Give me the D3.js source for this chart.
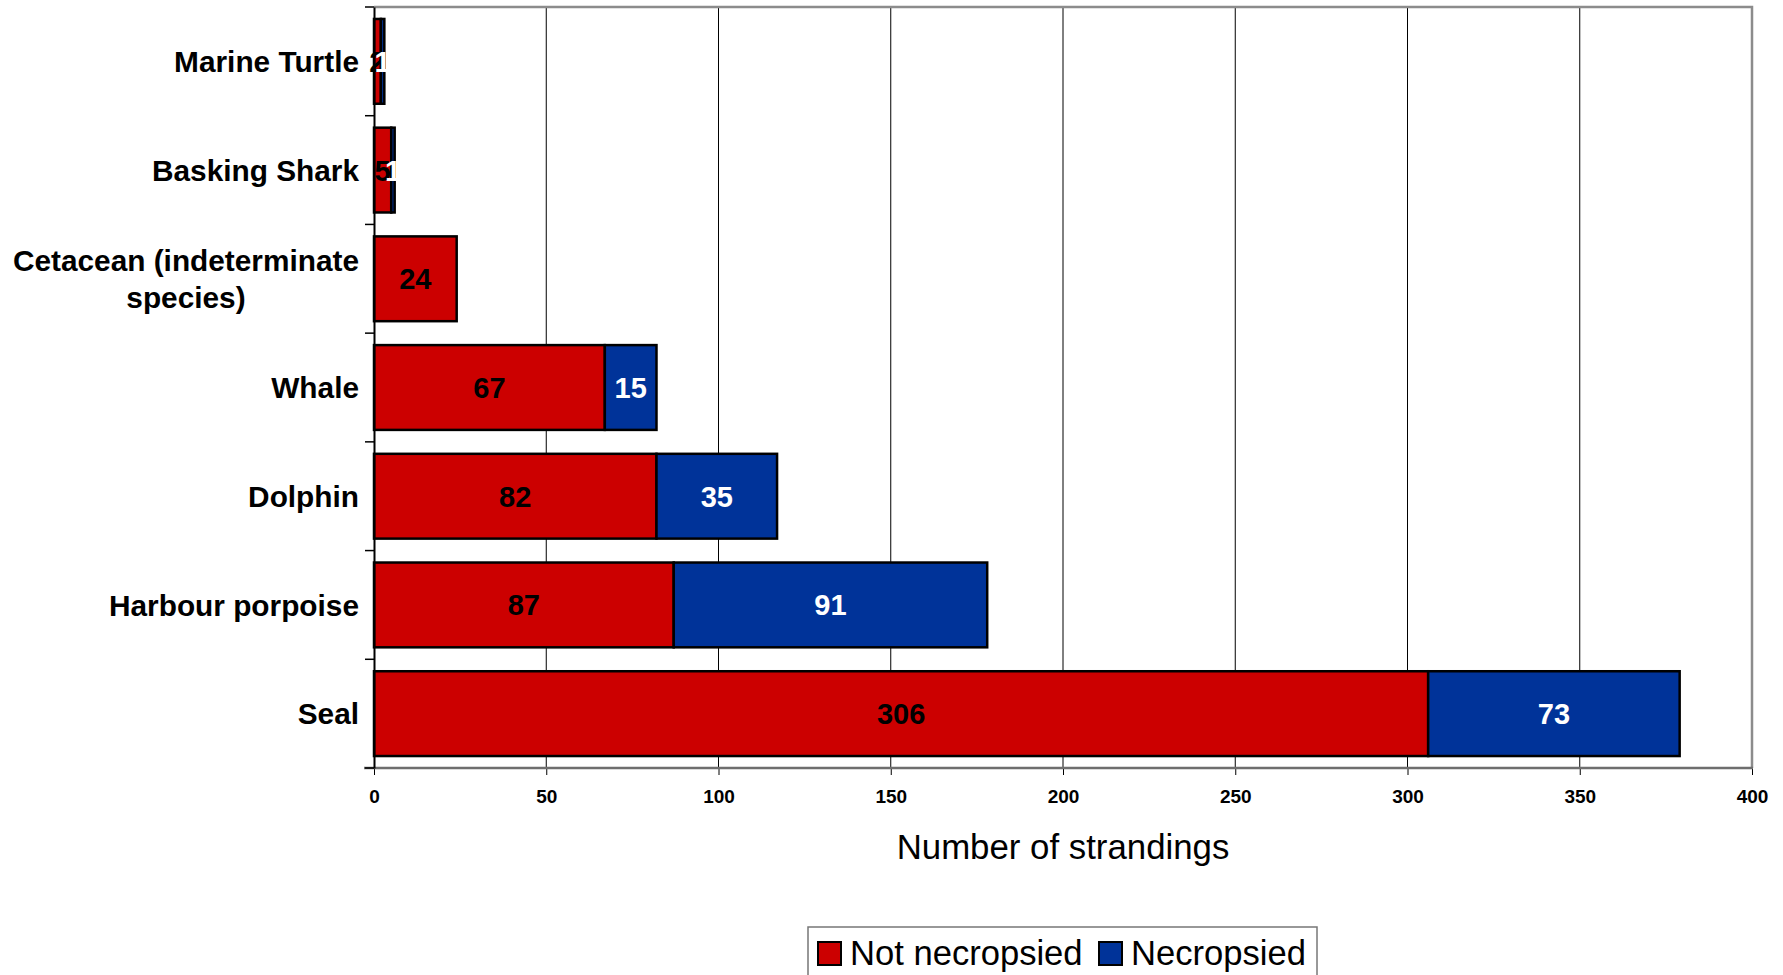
<!DOCTYPE html>
<html>
<head>
<meta charset="utf-8">
<script src="https://cdn.jsdelivr.net/npm/d3@7"></script>
<style>
  html, body { margin: 0; padding: 0; background: #fff; }
  svg { display: block; font-family: "Liberation Sans", Arial, Helvetica, sans-serif; }
</style>
</head>
<body>
<svg id="chart" width="1783" height="975"></svg>
<script>
// Strandings by species, split by whether a necropsy was carried out
const categories = ["Marine Turtle", "Basking Shark", "Cetacean (indeterminate species)", "Whale", "Dolphin", "Harbour porpoise", "Seal"];
const categoryLines = [["Marine Turtle"], ["Basking Shark"], ["Cetacean (indeterminate", "species)"], ["Whale"], ["Dolphin"], ["Harbour porpoise"], ["Seal"]];
const notNecropsied = [2, 5, 24, 67, 82, 87, 306];
const necropsied = [1, 1, 0, 15, 35, 91, 73];
const seriesNames = ["Not necropsied", "Necropsied"];
const seriesColors = ["#CC0000", "#003399"];
const labelColors = ["#000", "#fff"];
const xTicks = [0, 50, 100, 150, 200, 250, 300, 350, 400];
const xTitle = "Number of strandings";

const svg = d3.select("#chart");
const plot = { left: 374, right: 1752, top: 7, bottom: 768 };

const x = d3.scaleLinear().domain([0, 400]).range([plot.left, plot.right]);
const y = d3.scaleBand().domain(categories).range([plot.top, plot.bottom])
  .paddingInner(0.22).paddingOuter(0.11);

// vertical gridlines
svg.append("g").selectAll("line").data(xTicks.filter(t => t > 0 && t < 400)).join("line")
  .attr("x1", d => x(d)).attr("x2", d => x(d))
  .attr("y1", plot.top).attr("y2", plot.bottom)
  .attr("stroke", "#000").attr("stroke-width", 1);

// plot area border (top and right)
svg.append("path")
  .attr("d", `M${plot.left},${plot.top}H${plot.right}V${plot.bottom}`)
  .attr("fill", "none").attr("stroke", "#8c8c8c").attr("stroke-width", 2.5);

// stacked data
const stacked = d3.stack().keys([0, 1])
  .value((d, k) => k === 0 ? d.a : d.b)(categories.map((c, i) => ({ c, a: notNecropsied[i], b: necropsied[i] })));

// bars
stacked.forEach((layer, k) => {
  svg.append("g").selectAll("rect").data(layer.filter(d => d[1] - d[0] > 0)).join("rect")
    .attr("x", d => x(d[0]))
    .attr("y", d => y(d.data.c))
    .attr("width", d => x(d[1]) - x(d[0]))
    .attr("height", y.bandwidth())
    .attr("fill", seriesColors[k])
    .attr("stroke", "#000").attr("stroke-width", 2.5);
});

// value labels
stacked.forEach((layer, k) => {
  svg.append("g").selectAll("text").data(layer.filter(d => d[1] - d[0] > 0)).join("text")
    .attr("x", d => (x(d[0]) + x(d[1])) / 2)
    .attr("y", d => y(d.data.c) + y.bandwidth() / 2)
    .attr("dy", "0.36em")
    .attr("text-anchor", "middle")
    .attr("font-size", 29).attr("font-weight", "bold")
    .attr("fill", labelColors[k])
    .text(d => d[1] - d[0]);
});

// x axis
const xAxis = svg.append("g").attr("transform", `translate(0,${plot.bottom})`)
  .call(d3.axisBottom(x).tickValues(xTicks).tickSize(7).tickPadding(15).tickFormat(d3.format("d")));
xAxis.select(".domain").remove();
xAxis.selectAll(".tick line").attr("stroke", "#000");
xAxis.selectAll(".tick text").attr("font-size", 19).attr("font-weight", "bold").attr("fill", "#000")
  .attr("font-family", "Liberation Sans, Arial, sans-serif");
svg.append("line")
  .attr("x1", plot.left - 10).attr("x2", plot.right + 1)
  .attr("y1", plot.bottom).attr("y2", plot.bottom)
  .attr("stroke", "#6e6e6e").attr("stroke-width", 2.5);

// y axis
const yAxis = svg.append("g").attr("transform", `translate(${plot.left},0)`)
  .call(d3.axisLeft(y).tickSize(0).tickFormat(""));
yAxis.select(".domain").attr("stroke", "#000").attr("stroke-width", 2);
yAxis.selectAll(".tick").remove();
const bounds = categories.map(c => y(c) - y.step() * y.paddingInner() / 2).concat([plot.bottom]);
svg.append("g").selectAll("line").data(bounds).join("line")
  .attr("x1", plot.left - 9).attr("x2", plot.left)
  .attr("y1", d => d).attr("y2", d => d)
  .attr("stroke", "#000").attr("stroke-width", 1.5);

// category labels (multi-line labels centred within a right-aligned block)
const catG = svg.append("g").attr("font-size", 29.8).attr("font-weight", "bold").attr("fill", "#000");
categories.forEach((c, i) => {
  const lines = categoryLines[i];
  const lh = 37;
  const cy = y(c) + y.bandwidth() / 2;
  const t = catG.append("text").attr("text-anchor", lines.length > 1 ? "middle" : "end");
  let anchorX = 359;
  if (lines.length > 1) {
    // measure the widest line to centre the block against the right edge
    const probe = catG.append("text").text(lines[0]);
    const w = probe.node().getComputedTextLength();
    probe.remove();
    anchorX = 359 - w / 2;
  }
  lines.forEach((ln, j) => {
    t.append("tspan").attr("x", anchorX)
      .attr("y", cy + (j - (lines.length - 1) / 2) * lh)
      .attr("dy", "0.36em").text(ln);
  });
});

// axis title
svg.append("text")
  .attr("x", (plot.left + plot.right) / 2).attr("y", 859)
  .attr("text-anchor", "middle").attr("font-size", 34.8).attr("fill", "#000")
  .text(xTitle);

// legend
const lg = svg.append("g");
lg.append("rect").attr("x", 808).attr("y", 927).attr("width", 509).attr("height", 70)
  .attr("fill", "#fff").attr("stroke", "#777").attr("stroke-width", 1.5);
const legendX = [818, 1099];
seriesNames.forEach((name, k) => {
  lg.append("rect").attr("x", legendX[k]).attr("y", 942).attr("width", 23).attr("height", 23)
    .attr("fill", seriesColors[k]).attr("stroke", "#000").attr("stroke-width", 2);
  lg.append("text").attr("x", legendX[k] + 32).attr("y", 965)
    .attr("font-size", 34.6).attr("fill", "#000").text(name);
});
</script>
</body>
</html>
